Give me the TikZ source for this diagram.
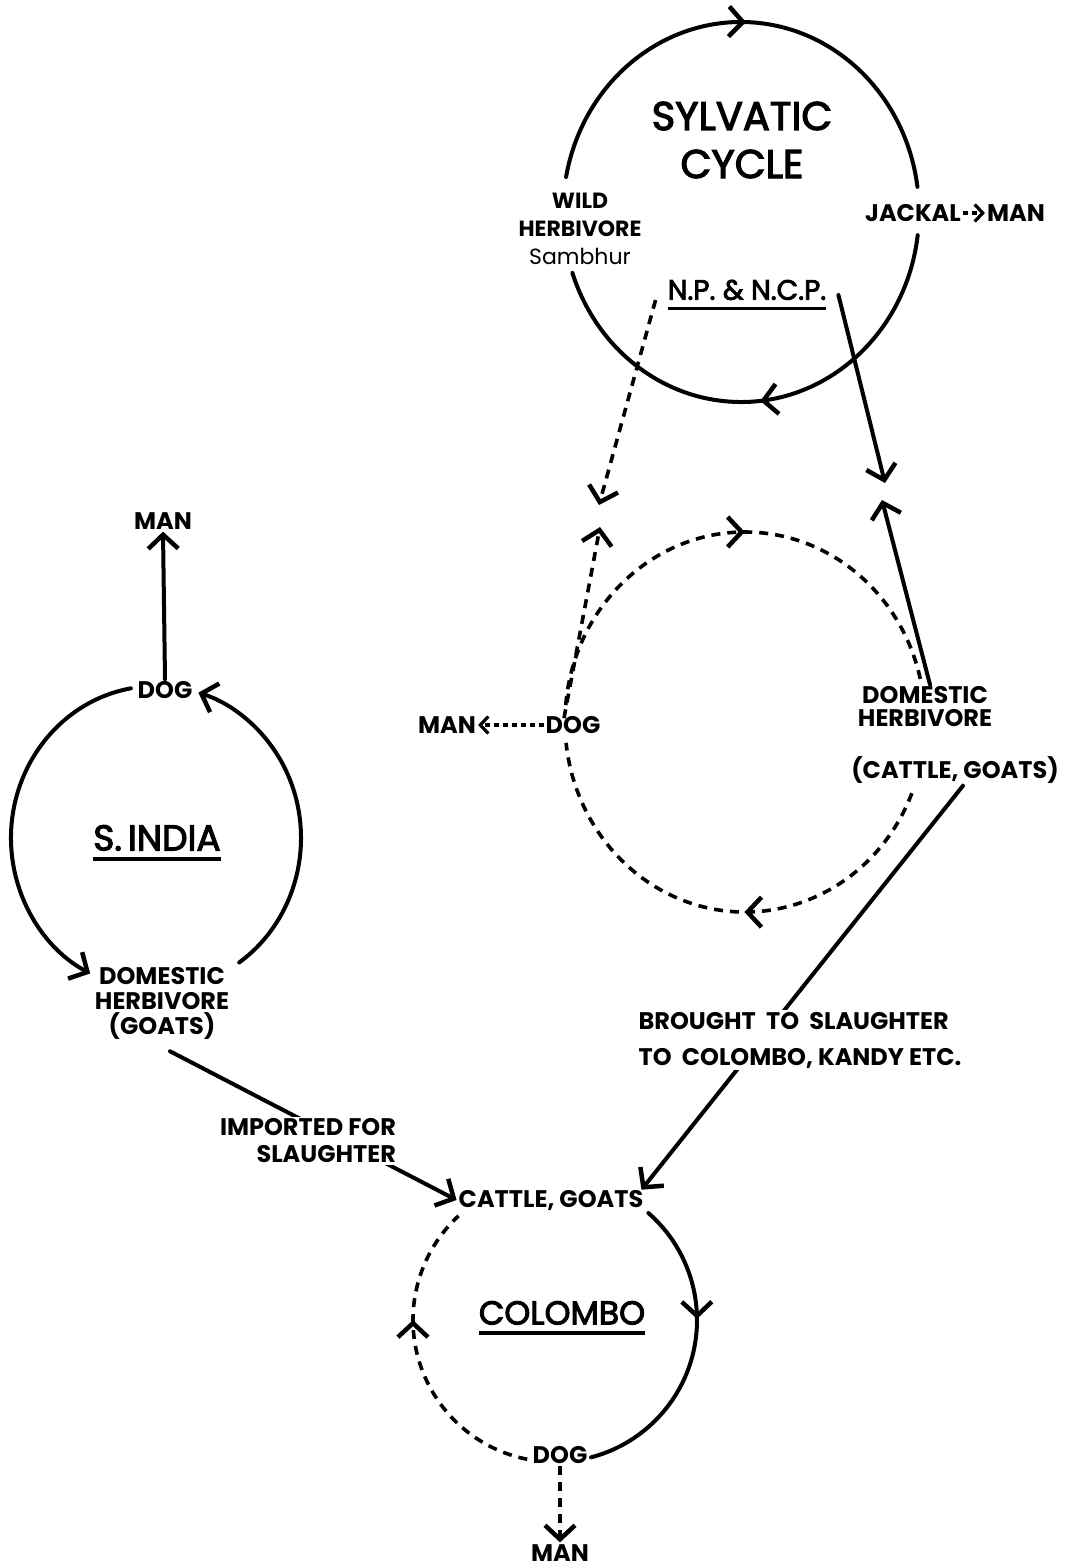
\documentclass[tikz,border=0pt]{standalone}
\usepackage{fontspec}
\setmainfont{Poppins}
\newfontfamily\tfont[FakeBold=3]{Poppins}
\usetikzlibrary{arrows.meta,decorations.markings}
\pgfdeclarelayer{bg}
\pgfsetlayers{bg,main}
\newcommand{\myul}[1]{\setbox0=\hbox{#1}\hbox{\copy0\llap{\vrule width\wd0 height -7pt depth 10.5pt}}}
\begin{document}
\begin{tikzpicture}[x=1pt,y=1pt,
  ln/.style={line width=4pt,line cap=round},
  dsh/.style={line width=3.6pt,dash pattern=on 9pt off 7pt},
  dt/.style={line width=3.2pt,dash pattern=on 5pt off 4pt},
  midarr/.style={postaction={decorate},decoration={markings,mark=at position #1 with {\arrow{Straight Barb[length=14pt,width=30pt,line width=4.5pt]}}}},
  lbl/.style={font=\bfseries\fontsize{24}{26}\selectfont,inner sep=2pt,align=center},
  big/.style={font=\tfont\fontsize{36}{40}\selectfont,inner sep=2pt},
  wbg/.style={fill=white}
]
\tikzset{barb/.tip={Straight Barb[length=14pt,width=30pt,line width=4.5pt]},
  sbarb/.tip={Straight Barb[length=8pt,width=17pt,line width=3.2pt]}}
\useasboundingbox (0,0) rectangle (1077,-1568);
\begin{pgfonlayer}{bg}
\fill[white] (0,0) rectangle (1077,-1568);
\end{pgfonlayer}

% ---------- centres ----------
\coordinate (cs) at (741,-212);
\coordinate (cm) at (745,-722);
\coordinate (ci) at (156,-838);
\coordinate (cc) at (555,-1320);

% ---------- sylvatic ----------
\node[font=\tfont\fontsize{40}{48}\selectfont,align=center] (syl) at (742,-140) {SYLVATIC\\CYCLE};
\node[lbl,font=\bfseries\fontsize{22}{28}\selectfont] (wild) at (580,-229) {WILD\\HERBIVORE\\\mdseries Sambhur};
\node[lbl] (jackal) at (913,-213) {JACKAL};
\node[lbl] (manJ) at (1016,-213) {MAN};
\node[font=\tfont\fontsize{28}{30}\selectfont,inner sep=2pt] (np) at (747,-295) {\myul{N.P. \& N.C.P.}};

\draw[ln,midarr=0.5] ([shift={(169.4:178 and 190)}]cs) arc[start angle=169.4,end angle=7.6,x radius=178,y radius=190];
\draw[ln,midarr=0.5] ([shift={(-7:178 and 190)}]cs) arc[start angle=-7,end angle=-161.3,x radius=178,y radius=190];
\draw[dt,-{sbarb}] (jackal.east) -- (manJ.west);

% ---------- domestic cycle ----------
\node[lbl] (dogM) at (573,-725) {DOG};
\node[lbl] (manM) at (447,-725) {MAN};
\node[lbl,font=\bfseries\fontsize{24}{23}\selectfont] (domM) at (925,-707) {DOMESTIC\\HERBIVORE};
\node[lbl] (cgM) at (955,-770) {(CATTLE, GOATS)};

\draw[dsh,midarr=0.524] ([shift={(174.9:180 and 190)}]cm) arc[start angle=174.9,end angle=12.8,x radius=180,y radius=190];
\draw[dsh,midarr=0.448] ([shift={(-22:180 and 190)}]cm) arc[start angle=-22,end angle=-173.7,x radius=180,y radius=190];
\draw[dt,-{sbarb}] (dogM.west) -- (manM.east);

\coordinate (npend) at (599,-505);
\coordinate (dogup) at (600,-527);
\coordinate (ncpend) at (885,-483);
\coordinate (domup) at (882,-500);
\draw[dsh,-{barb}] ([shift={(-10,-5)}]np.west) -- (npend);
\draw[dsh,-{barb}] ([xshift=-9pt,yshift=-4pt]dogM.north) -- (dogup);
\draw[ln,-{barb}] ([xshift=10pt]np.east) -- (ncpend);
\draw[ln,-{barb}] ([xshift=5pt]domM.north) -- (domup);

% ---------- S. India ----------
\node[lbl] (manI) at (163,-521) {MAN};
\node[lbl] (dogI) at (165,-690) {DOG};
\node[big] (sindia) at (157,-843) {\myul{S.\,INDIA}};
\node[lbl,font=\bfseries\fontsize{24}{25}\selectfont] (domI) at (162,-1003) {DOMESTIC\\HERBIVORE\\(GOATS)};

\draw[ln,-{barb}] ([shift={(100:145 and 152)}]ci) arc[start angle=100,end angle=243,x radius=145,y radius=152];
\draw[ln,-{barb}] ([shift={(-55:145 and 152)}]ci) arc[start angle=-55,end angle=73,x radius=145,y radius=152];
\draw[ln,-{barb}] (dogI.north) -- (manI.south);

% ---------- transfer labels ----------
\node[lbl,align=right,wbg,font=\bfseries\fontsize{24}{27}\selectfont] (imp) at (308,-1141) {IMPORTED FOR\\SLAUGHTER};
\node[lbl,align=left,wbg,font=\bfseries\fontsize{24}{36}\selectfont] (brought) at (800,-1040) {BROUGHT\ \ TO\ \ SLAUGHTER\\ TO\ \ COLOMBO, KANDY ETC.};

% ---------- Colombo ----------
\node[lbl] (cgC) at (551,-1200) {CATTLE, GOATS};
\node[big,font=\tfont\fontsize{33}{36}\selectfont] (colombo) at (562,-1318) {\myul{COLOMBO}};
\node[lbl] (dogC) at (560,-1455) {DOG};
\node[lbl] (manC) at (560,-1553) {MAN};

\draw[ln,midarr=0.39] ([shift={(48.9:142)}]cc) arc[start angle=48.9,end angle=-75.3,radius=142];
\draw[dsh,midarr=0.625] ([shift={(258.7:142)}]cc) arc[start angle=258.7,end angle=132.8,radius=142];
\draw[dsh,-{barb}] (dogC.south) -- (manC.north);

\begin{pgfonlayer}{bg}
\draw[ln,-{barb}] ([shift={(8,-10)}]domI.south) -- (cgC.west);
\draw[ln,-{barb}] ([xshift=8pt]cgM.south) -- ([shift={(-4,-2)}]cgC.north east);
\end{pgfonlayer}
\end{tikzpicture}
\end{document}
